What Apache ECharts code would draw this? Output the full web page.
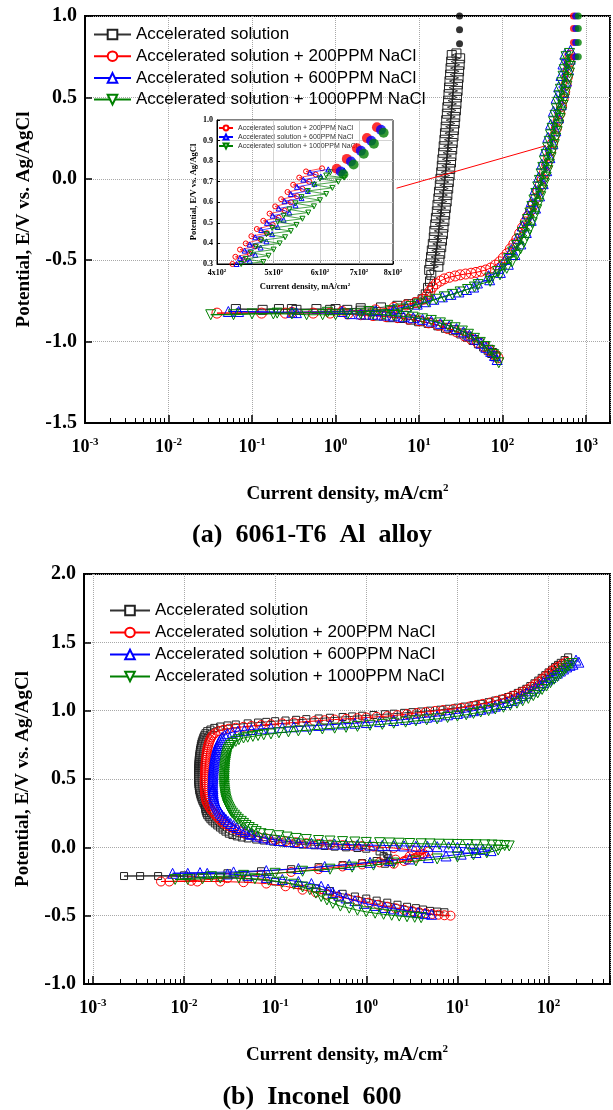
<!DOCTYPE html>
<html><head><meta charset="utf-8">
<script src="https://cdn.jsdelivr.net/npm/echarts@6/dist/echarts.min.js"></script>
<style>html,body{margin:0;padding:0;background:#fff}#c{width:613px;height:1110px}</style>
</head><body><div id="c"></div>
<script>
// ---------- names / categories ----------
const seriesNames = ['Accelerated solution','Accelerated solution + 200PPM NaCl','Accelerated solution + 600PPM NaCl','Accelerated solution + 1000PPM NaCl'];
const panelTitles = ['(a)  6061-T6  Al  alloy','(b)  Inconel  600'];
const yTitle = 'Potential, E/V vs. Ag/AgCl';
const xTitle = 'Current density, mA/cm';
const insetXTicks = [400,500,600,700,800];

// ---------- (a) 6061-T6 Al alloy : [current density, potential] ----------
const alBlack = [[82,-1.09],[75,-1.07],[68,-1.05],[60,-1.03],[52,-1.01],[45,-0.99],[38,-0.97],[32,-0.95],[26,-0.93],[21,-0.915],[17,-0.9],[13,-0.885],[10,-0.875],[8,-0.865],[6,-0.855],[4.5,-0.85],[3.2,-0.84],[2.3,-0.835],[2.0,-0.81],[1.38,-0.805],[0.86,-0.805],[0.59,-0.8],[0.34,-0.805],[0.21,-0.8],[0.134,-0.805],[0.064,-0.8],
[0.3,-0.8],[1.0,-0.8],[2.0,-0.795],[3.5,-0.79],[5.5,-0.78],[7.5,-0.77],[9.5,-0.76],[11,-0.74],[12,-0.71],[12.8,-0.67],[13.5,-0.63],[14,-0.59],
[13.2,-0.56],[17.0,-0.54],[13.6,-0.52],[17.5,-0.5],[13.9,-0.48],[17.9,-0.46],[14.2,-0.44],[18.4,-0.42],[14.6,-0.4],[18.8,-0.38],[15.0,-0.36],[19.3,-0.34],[15.2,-0.32],[19.6,-0.3],[15.6,-0.28],[20.1,-0.26],[15.9,-0.24],[20.5,-0.22],[16.3,-0.2],[20.9,-0.18],[16.6,-0.16],[21.4,-0.14],[17.0,-0.12],[21.8,-0.1],[17.3,-0.08],[22.3,-0.06],[17.7,-0.04],[22.7,-0.02],[18.0,0.0],[23.2,0.02],[18.4,0.04],[23.6,0.06],[18.7,0.08],[24.1,0.1],[19.0,0.12],[24.4,0.14],[19.4,0.16],[24.9,0.18],[19.7,0.2],[25.3,0.22],[20.1,0.24],[25.8,0.26],[20.4,0.28],[26.2,0.3],[20.8,0.32],[26.7,0.34],[21.1,0.36],[27.1,0.38],[21.5,0.4],[27.6,0.42],[21.8,0.44],[28.0,0.46],[22.2,0.48],[28.4,0.5],[22.5,0.52],[28.9,0.54],[22.8,0.56],[29.2,0.58],[23.1,0.6],[29.7,0.62],[23.5,0.64],[30.1,0.66],[23.8,0.68],[30.6,0.7],[24.2,0.72],[31.0,0.74],[24.6,0.76],[28,0.77]];
const alRed = [[88,-1.1],[80,-1.08],[70,-1.055],[60,-1.03],[50,-1.005],[42,-0.985],[35,-0.965],[28,-0.94],[22,-0.92],[17,-0.9],[13,-0.885],[10,-0.872],[7.5,-0.862],[5.5,-0.853],[4,-0.846],[2.8,-0.84],[2,-0.835],[1.4,-0.83],[0.86,-0.825],[0.54,-0.825],[0.25,-0.825],[0.13,-0.825],[0.038,-0.825],
[0.3,-0.82],[1.2,-0.815],[3,-0.805],[5,-0.79],[7,-0.775],[9,-0.76],[11,-0.74],[12.5,-0.715],[13.5,-0.69],[14.5,-0.665],[16,-0.645],[18,-0.628],[20,-0.615],[23,-0.605],[27,-0.597],[31,-0.59],[36,-0.585],[42,-0.58],[48,-0.575],[55,-0.568],[63,-0.56],[72,-0.548],[82,-0.53],[92,-0.51],[102,-0.485],[113,-0.46],[124,-0.43],[136,-0.4],[148,-0.37],[160,-0.335],[173,-0.3],[187,-0.265],[201,-0.23],[216,-0.195],[232,-0.16],[248,-0.12],[265,-0.08],[282,-0.04],[300,0.0],[318,0.04],[337,0.085],[356,0.13],[376,0.175],[397,0.22],[418,0.265],[440,0.31],[462,0.355],[485,0.4],[508,0.445],[531,0.49],[554,0.535],[576,0.58],[596,0.625],[613,0.67],[627,0.715],[640,0.76]];
const alBlue = [[86,-1.11],[80,-1.085],[72,-1.06],[63,-1.035],[55,-1.01],[47,-0.985],[40,-0.96],[34,-0.94],[28,-0.92],[23,-0.903],[18,-0.888],[14,-0.874],[11,-0.863],[8.5,-0.853],[6.5,-0.847],[5,-0.842],[3.8,-0.837],[2.8,-0.832],[2,-0.83],[1.5,-0.828],[0.34,-0.822],[0.069,-0.815],[0.052,-0.815],
[0.3,-0.82],[1.2,-0.815],[3,-0.81],[5,-0.8],[7,-0.785],[9.5,-0.77],[12,-0.755],[15,-0.74],[19,-0.725],[24,-0.71],[30,-0.695],[37,-0.68],[45,-0.665],[50,-0.64],[70,-0.62],[68,-0.595],[94,-0.575],[89,-0.55],[117,-0.525],[108,-0.495],[140,-0.465],[127,-0.435],[165,-0.4],[150,-0.365],[192,-0.33],[172,-0.29],[220,-0.255],[196,-0.215],[248,-0.18],[220,-0.14],[277,-0.105],[245,-0.065],[306,-0.03],[270,0.01],[337,0.05],[295,0.09],[368,0.13],[321,0.175],[400,0.215],[348,0.255],[433,0.295],[376,0.335],[468,0.375],[406,0.415],[504,0.455],[437,0.495],[541,0.53],[469,0.565],[580,0.6],[500,0.635],[616,0.67],[528,0.705],[645,0.735],[556,0.765],[650,0.79]];
const alGreen = [[90,-1.13],[84,-1.1],[78,-1.08],[70,-1.055],[62,-1.03],[54,-1.005],[46,-0.98],[39,-0.955],[33,-0.935],[27,-0.915],[22,-0.9],[18,-0.885],[14,-0.87],[11,-0.86],[8.5,-0.85],[6.5,-0.845],[5,-0.84],[3.8,-0.835],[2.8,-0.83],[2,-0.83],[1.4,-0.83],[1,-0.835],[0.7,-0.835],[0.45,-0.835],[0.3,-0.83],[0.18,-0.83],[0.1,-0.83],[0.06,-0.835],[0.032,-0.835],
[0.2,-0.825],[0.8,-0.82],[2.5,-0.815],[4.5,-0.81],[6,-0.8],[8,-0.785],[10,-0.77],[13,-0.755],[16,-0.74],[20,-0.725],[25,-0.71],[31,-0.695],[38,-0.68],[46,-0.665],
[51,-0.65],[71,-0.63],[70,-0.61],[93,-0.59],[87,-0.57],[112,-0.55],[103,-0.53],[130,-0.51],[118,-0.49],[147,-0.47],[132,-0.45],[164,-0.43],[147,-0.41],[180,-0.39],[160,-0.37],[195,-0.35],[173,-0.33],[211,-0.31],[186,-0.29],[226,-0.27],[199,-0.25],[241,-0.23],[212,-0.21],[256,-0.19],[224,-0.17],[271,-0.15],[237,-0.13],[286,-0.11],[250,-0.09],[301,-0.07],[263,-0.05],[316,-0.03],[276,-0.01],[332,0.01],[289,0.03],[348,0.05],[303,0.07],[363,0.09],[316,0.11],[380,0.13],[331,0.15],[397,0.17],[346,0.19],[415,0.21],[361,0.23],[432,0.25],[375,0.27],[450,0.29],[391,0.31],[469,0.33],[408,0.35],[488,0.37],[424,0.39],[508,0.41],[441,0.43],[527,0.45],[457,0.47],[548,0.49],[475,0.51],[568,0.53],[492,0.55],[589,0.57],[511,0.59],[610,0.61],[529,0.63],[631,0.65],[546,0.67],[650,0.69],[561,0.71],[667,0.73],[575,0.75],[632,0.77]];
const alBlackDots = [[30.5,1.0],[30.5,0.915],[30.5,0.83]];
const alRedDots = [[705,0.749],[705,0.837],[705,0.923],[705,1.0]];
const alBlueDots = [[750,0.749],[750,0.837],[750,0.923],[750,1.0]];
const alGreenDots = [[805,0.749],[805,0.837],[805,0.923],[805,1.0]];
const alArrow = [[5.37,-0.058],[328,0.203]];

// ---------- inset (zoom of anodic top) ----------
const insetRed = [[425,0.3],[445,0.32],[430,0.335],[455,0.35],[438,0.37],[465,0.385],[448,0.4],[475,0.42],[458,0.435],[487,0.45],[468,0.47],[498,0.49],[480,0.51],[510,0.525],[492,0.545],[522,0.56],[503,0.58],[535,0.6],[515,0.615],[548,0.63],[528,0.65],[560,0.665],[540,0.685],[575,0.7],[553,0.72],[590,0.735],[568,0.75],[605,0.765]];
const insetBlue = [[432,0.3],[455,0.315],[438,0.33],[465,0.345],[446,0.365],[475,0.38],[455,0.395],[486,0.41],[465,0.43],[497,0.445],[476,0.465],[508,0.48],[487,0.5],[520,0.515],[498,0.535],[532,0.55],[510,0.57],[545,0.585],[522,0.605],[558,0.62],[535,0.64],[572,0.655],[548,0.675],[587,0.69],[562,0.71],[602,0.725],[577,0.745],[620,0.76],[660,0.755]];
const insetGreen = [[440,0.3],[480,0.31],[448,0.325],[490,0.34],[457,0.355],[500,0.37],[466,0.385],[512,0.4],[476,0.415],[523,0.43],[486,0.445],[535,0.46],[497,0.475],[547,0.49],[508,0.505],[560,0.52],[520,0.535],[573,0.55],[532,0.565],[586,0.58],[545,0.595],[600,0.61],[558,0.625],[615,0.64],[572,0.655],[630,0.67],[586,0.685],[645,0.7],[600,0.715],[660,0.72],[615,0.73],[625,0.745]];
const insetRedDots = [[641,0.763],[667,0.811],[694,0.863],[722,0.912],[751,0.965]];
const insetBlueDots = [[651,0.75],[678,0.798],[705,0.85],[734,0.899],[763,0.952]];
const insetGreenDots = [[658,0.736],[685,0.784],[713,0.836],[742,0.885],[771,0.938]];

// ---------- (b) Inconel 600 ----------
const inBlack = [[7.2,-0.475],[6,-0.47],[5,-0.465],[4.2,-0.455],[3.5,-0.445],[2.8,-0.435],[2.2,-0.42],[1.7,-0.405],[1.3,-0.39],[1,-0.375],[0.75,-0.36],[0.55,-0.34],[0.4,-0.32],[0.28,-0.3],[0.18,-0.275],[0.1,-0.25],[0.05,-0.23],[0.025,-0.22],[0.012,-0.215],[0.0052,-0.21],[0.0033,-0.21],[0.0022,-0.21],
[0.01,-0.205],[0.03,-0.19],[0.07,-0.175],[0.15,-0.16],[0.3,-0.145],[0.55,-0.13],[0.9,-0.115],[1.3,-0.1],[1.6,-0.12],[1.8,-0.105],[1.75,-0.08],[1.55,-0.065],[1.7,-0.05],[1.4,-0.03],[1.0,-0.01],[0.8,-0.005],[0.6,0.0],[0.45,0.005],[0.35,0.01],[0.27,0.015],[0.2,0.02],[0.16,0.027],[0.12,0.035],[0.095,0.042],[0.075,0.05],[0.062,0.057],[0.05,0.065],[0.043,0.072],[0.038,0.08],[0.034,0.09],
[0.031,0.1],[0.0285,0.115],[0.0265,0.13],[0.0248,0.145],[0.0232,0.16],[0.0218,0.175],[0.0205,0.19],[0.0195,0.205],[0.0187,0.22],[0.018,0.235],[0.0176,0.25],[0.0173,0.265],[0.0171,0.28],[0.017,0.295],[0.0167,0.31],[0.0163,0.325],[0.0159,0.34],[0.0156,0.355],[0.0153,0.37],[0.0151,0.385],[0.0149,0.4],[0.0147,0.415],[0.0146,0.43],[0.0145,0.445],[0.0144,0.46],[0.0144,0.475],[0.0143,0.49],[0.0143,0.505],[0.0143,0.52],[0.0143,0.535],[0.0143,0.55],[0.0143,0.565],[0.0143,0.58],[0.0144,0.595],[0.0144,0.61],[0.0145,0.625],[0.0145,0.64],[0.0146,0.655],[0.0147,0.67],[0.0148,0.685],[0.0149,0.7],[0.015,0.715],[0.0152,0.73],[0.0153,0.745],[0.0155,0.76],[0.0157,0.775],[0.016,0.79],[0.0163,0.805],[0.0167,0.82],[0.0172,0.835],[0.018,0.85],[0.0195,0.862],[0.0215,0.874],
[0.025,0.884],[0.03,0.892],[0.037,0.899],[0.05,0.907],[0.065,0.913],[0.08,0.918],[0.1,0.923],[0.13,0.928],[0.17,0.933],[0.22,0.938],[0.3,0.943],[0.4,0.948],[0.55,0.954],[0.7,0.958],[0.9,0.963],[1.2,0.968],[1.6,0.974],[2,0.978],[2.6,0.984],[3.2,0.989],[4,0.994],[5,1.0],[6.5,1.007],[8,1.014],[10,1.022],[12,1.03],[15,1.04],[18,1.05],[22,1.062],[26,1.074],[31,1.087],[36,1.1],[41,1.115],[46,1.13],[51,1.145],[57,1.16],[63,1.18],[70,1.2],[77,1.22],[84,1.24],[92,1.26],[100,1.28],[109,1.3],[118,1.32],[127,1.335],[136,1.35],[150,1.37],[164,1.39]];
const inRed = [[8.4,-0.5],[7.2,-0.497],[6.2,-0.493],[5.3,-0.488],[4.5,-0.482],[3.8,-0.475],[3.2,-0.467],[2.6,-0.457],[2.1,-0.446],[1.7,-0.434],[1.35,-0.42],[1.05,-0.405],[0.8,-0.39],[0.62,-0.375],[0.48,-0.36],[0.37,-0.345],[0.28,-0.33],[0.2,-0.31],[0.13,-0.285],[0.08,-0.265],[0.045,-0.255],[0.025,-0.25],[0.014,-0.25],[0.0069,-0.25],[0.0056,-0.25],
[0.012,-0.245],[0.03,-0.225],[0.07,-0.2],[0.15,-0.18],[0.3,-0.16],[0.55,-0.14],[0.9,-0.125],[1.4,-0.11],[2.1,-0.09],[3.0,-0.065],[4.0,-0.045],[4.8,-0.03],[3.8,-0.06],[2.8,-0.09],[2.0,-0.12],[2.6,-0.1],[3.5,-0.075],[4.3,-0.05],[3.2,-0.02],[2.0,-0.005],[1.2,0.005],[0.9,0.009],[0.7,0.012],[0.55,0.016],[0.4,0.02],[0.3,0.025],[0.22,0.03],[0.17,0.037],[0.13,0.045],[0.1,0.055],[0.08,0.065],[0.065,0.077],[0.055,0.09],
[0.047,0.1],[0.042,0.115],[0.037,0.13],[0.033,0.145],[0.03,0.16],[0.0275,0.175],[0.0258,0.19],[0.0245,0.205],[0.0232,0.22],[0.0222,0.235],[0.0213,0.25],[0.0204,0.265],[0.0196,0.28],[0.019,0.295],[0.0184,0.31],[0.0179,0.325],[0.0176,0.34],[0.0174,0.355],[0.0172,0.37],[0.0171,0.385],[0.017,0.4],[0.017,0.415],[0.0169,0.43],[0.0169,0.445],[0.0169,0.46],[0.0169,0.475],[0.0169,0.49],[0.0169,0.505],[0.017,0.52],[0.017,0.535],[0.017,0.55],[0.0171,0.565],[0.0171,0.58],[0.0172,0.595],[0.0172,0.61],[0.0173,0.625],[0.0174,0.64],[0.0175,0.655],[0.0176,0.67],[0.0177,0.685],[0.0178,0.7],[0.018,0.715],[0.0182,0.73],[0.0184,0.745],[0.0187,0.76],[0.019,0.775],[0.0194,0.79],[0.0199,0.805],[0.0206,0.82],[0.0218,0.835],[0.024,0.85],
[0.027,0.86],[0.031,0.868],[0.037,0.875],[0.045,0.882],[0.055,0.888],[0.07,0.894],[0.09,0.9],[0.12,0.907],[0.16,0.913],[0.2,0.918],[0.27,0.924],[0.35,0.93],[0.45,0.935],[0.6,0.94],[0.8,0.945],[1,0.95],[1.3,0.955],[1.7,0.96],[2.2,0.967],[2.8,0.975],[3.6,0.983],[4.5,0.99],[5.7,0.998],[7,1.005],[9,1.012],[11,1.02],[13.5,1.03],[16,1.04],[19,1.05],[23,1.06],[27,1.072],[32,1.085],[37,1.098],[42,1.11],[47,1.125],[53,1.14],[59,1.157],[65,1.175],[71,1.192],[78,1.21],[85,1.23],[92,1.25],[100,1.27],[108,1.29],[116,1.305],[125,1.32],[140,1.34],[155,1.358]];
const inBlue = [[5.2,-0.49],[4.4,-0.485],[3.7,-0.478],[3.1,-0.47],[2.5,-0.46],[2.0,-0.45],[1.6,-0.44],[1.25,-0.425],[0.95,-0.41],[0.75,-0.39],[0.6,-0.37],[0.5,-0.35],[0.43,-0.33],[0.38,-0.305],[0.32,-0.285],[0.25,-0.265],[0.18,-0.25],[0.12,-0.235],[0.08,-0.22],[0.05,-0.205],[0.03,-0.195],[0.018,-0.19],[0.011,-0.19],[0.0075,-0.19],
[0.015,-0.185],[0.035,-0.18],[0.08,-0.17],[0.18,-0.155],[0.35,-0.14],[0.65,-0.125],[1.1,-0.11],[1.8,-0.097],[3,-0.085],[4.8,-0.075],[7.5,-0.063],[11,-0.05],[16,-0.038],[23.4,-0.024],
[19,-0.015],[16,-0.01],[13,-0.005],[10,0.0],[8,0.003],[6,0.005],[4.7,0.007],[3.5,0.008],[2.6,0.01],[2,0.012],[1.5,0.014],[1.1,0.016],[0.8,0.018],[0.6,0.02],[0.45,0.023],[0.33,0.026],[0.25,0.03],[0.18,0.035],[0.14,0.042],[0.11,0.05],[0.09,0.06],[0.075,0.07],[0.064,0.082],[0.055,0.095],
[0.053,0.1],[0.047,0.115],[0.042,0.13],[0.038,0.145],[0.035,0.16],[0.0325,0.175],[0.0305,0.19],[0.0288,0.205],[0.0275,0.22],[0.0262,0.235],[0.0252,0.25],[0.0245,0.265],[0.0238,0.28],[0.0231,0.295],[0.0225,0.31],[0.022,0.325],[0.0217,0.34],[0.0214,0.355],[0.0212,0.37],[0.021,0.385],[0.0209,0.4],[0.0208,0.415],[0.0208,0.43],[0.0207,0.445],[0.0207,0.46],[0.0207,0.475],[0.0207,0.49],[0.0208,0.505],[0.0208,0.52],[0.0209,0.535],[0.0209,0.55],[0.021,0.565],[0.0211,0.58],[0.0212,0.595],[0.0213,0.61],[0.0215,0.625],[0.0216,0.64],[0.0218,0.655],[0.022,0.67],[0.0222,0.685],[0.0224,0.7],[0.0227,0.715],[0.023,0.73],[0.0234,0.745],[0.0238,0.76],[0.0244,0.775],[0.0252,0.79],[0.0262,0.805],[0.028,0.82],[0.03,0.832],[0.034,0.842],
[0.039,0.85],[0.046,0.856],[0.055,0.862],[0.07,0.867],[0.09,0.872],[0.12,0.877],[0.16,0.882],[0.22,0.887],[0.3,0.892],[0.4,0.897],[0.55,0.903],[0.75,0.908],[1,0.913],[1.4,0.92],[2,0.928],[2.7,0.936],[3.5,0.944],[4.6,0.952],[6,0.96],[7.8,0.97],[10,0.98],[12.5,0.99],[15,1.0],[18,1.01],[22,1.02],[26,1.033],[30,1.045],[35,1.06],[40,1.075],[46,1.092],[52,1.11],[58,1.127],[65,1.145],[72,1.165],[80,1.185],[88,1.205],[97,1.225],[106,1.243],[115,1.26],[125,1.275],[135,1.29],[146,1.305],[158,1.32],[172,1.332],[185,1.34],[200,1.37],[215,1.355]];
const inGreen = [[4.0,-0.515],[3.4,-0.512],[2.8,-0.508],[2.3,-0.503],[1.9,-0.497],[1.55,-0.49],[1.25,-0.482],[1.0,-0.472],[0.8,-0.46],[0.65,-0.445],[0.52,-0.43],[0.43,-0.41],[0.37,-0.385],[0.32,-0.36],[0.28,-0.335],[0.24,-0.31],[0.2,-0.29],[0.16,-0.27],[0.12,-0.255],[0.085,-0.24],[0.06,-0.23],[0.04,-0.225],[0.025,-0.225],[0.016,-0.23],[0.011,-0.235],[0.008,-0.235],
[0.02,-0.215],[0.045,-0.205],[0.1,-0.19],[0.2,-0.175],[0.4,-0.16],[0.7,-0.145],[1.2,-0.13],[2,-0.115],[3.5,-0.1],[6,-0.085],[10,-0.07],[15,-0.055],[21,-0.04],[28,-0.02],[37,0.01],
[33,0.013],[28,0.015],[24,0.017],[20,0.018],[16,0.019],[13,0.02],[10,0.021],[8,0.022],[6.3,0.023],[5,0.025],[4,0.026],[3,0.028],[2.3,0.03],[1.8,0.032],[1.4,0.034],[1.0,0.036],[0.75,0.039],[0.55,0.042],[0.4,0.046],[0.3,0.05],[0.22,0.057],[0.17,0.065],[0.135,0.075],[0.11,0.085],[0.085,0.093],
[0.07,0.1],[0.062,0.115],[0.057,0.13],[0.052,0.145],[0.048,0.16],[0.045,0.175],[0.0425,0.19],[0.0395,0.205],[0.0375,0.22],[0.0358,0.235],[0.034,0.25],[0.0328,0.265],[0.0318,0.28],[0.031,0.295],[0.0302,0.31],[0.0297,0.325],[0.0292,0.34],[0.0288,0.355],[0.0285,0.37],[0.0283,0.385],[0.0281,0.4],[0.0279,0.415],[0.0278,0.43],[0.0277,0.445],[0.0277,0.46],[0.0276,0.475],[0.0276,0.49],[0.0276,0.505],[0.0277,0.52],[0.0277,0.535],[0.0278,0.55],[0.0279,0.565],[0.028,0.58],[0.0281,0.595],[0.0283,0.61],[0.0285,0.625],[0.0287,0.64],[0.029,0.655],[0.0293,0.67],[0.0296,0.685],[0.03,0.7],[0.0305,0.715],[0.0315,0.73],[0.0325,0.745],[0.0342,0.76],[0.037,0.775],[0.04,0.788],[0.045,0.8],
[0.05,0.806],[0.057,0.812],[0.065,0.818],[0.075,0.824],[0.09,0.83],[0.11,0.838],[0.14,0.845],[0.18,0.852],[0.24,0.858],[0.33,0.866],[0.45,0.872],[0.6,0.878],[0.8,0.885],[1.1,0.893],[1.5,0.9],[2,0.908],[2.7,0.916],[3.5,0.925],[4.6,0.932],[6,0.94],[7.8,0.95],[10,0.96],[12.5,0.97],[15,0.98],[18,0.99],[22,1.0],[26,1.012],[32,1.025],[38,1.04],[45,1.055],[52,1.072],[60,1.09],[68,1.11],[76,1.13],[85,1.155],[95,1.18],[105,1.205],[115,1.23],[125,1.25],[135,1.27],[145,1.29],[155,1.31],[167,1.328],[180,1.345]];

// ---------- styling ----------
const SERIF = '"Liberation Serif","Times New Roman",serif';
const SANS = '"Liberation Sans",Arial,sans-serif';
const SANS_NARROW = '"Liberation Sans Narrow","Liberation Sans",Arial,sans-serif';
const COLORS = ['#000000','#ff0000','#0000ff','#008000'];
const SYMBOLS = ['rect','circle','triangle','path://M0,0L10,0L5,8.66Z'];
const GRIDC = '#a8a8a8';

function expLabel(v){
  const l = Math.log10(v), e = Math.round(l);
  if (Math.abs(l - e) > 1e-6) return '';
  return '{b|10}{s|' + e + '}';
}
const expRich = {
  b:{fontFamily:SERIF,fontWeight:'bold',fontSize:18,color:'#000',lineHeight:20},
  s:{fontFamily:SERIF,fontWeight:'bold',fontSize:11,color:'#000',verticalAlign:'top',lineHeight:11}
};
const nameRich = {
  t:{fontFamily:SERIF,fontWeight:'bold',fontSize:19,color:'#000',lineHeight:22},
  s:{fontFamily:SERIF,fontWeight:'bold',fontSize:11,color:'#000',verticalAlign:'top',lineHeight:11}
};

function logX(gi,min,max){
  return {type:'log',logBase:10,gridIndex:gi,min:min,max:max,
    axisLine:{show:true,onZero:false,lineStyle:{color:'#000',width:2}},
    axisTick:{show:true,inside:true,length:8,lineStyle:{color:'#000',width:1.5}},
    minorTick:{show:true,splitNumber:9,length:5,lineStyle:{color:'#000',width:1}},
    splitLine:{show:true,lineStyle:{color:GRIDC,type:'dotted',width:1}},
    minorSplitLine:{show:false},
    axisLabel:{formatter:expLabel,margin:14,rich:expRich},
    name:'{t|'+xTitle+'}{s|2}',nameLocation:'middle',nameGap:60,nameTextStyle:{rich:nameRich}};
}
function valY(gi,min,max,step){
  return {type:'value',gridIndex:gi,min:min,max:max,interval:step,
    axisLine:{show:true,onZero:false,lineStyle:{color:'#000',width:2}},
    axisTick:{show:true,inside:true,length:7,lineStyle:{color:'#000',width:1.5}},
    splitLine:{show:true,lineStyle:{color:GRIDC,type:'dotted',width:1}},
    axisLabel:{formatter:v=>v.toFixed(1),fontFamily:SERIF,fontWeight:'bold',fontSize:20,color:'#000',margin:8},
    name:yTitle,nameLocation:'middle',nameGap:51,nameRotate:90,
    nameTextStyle:{fontFamily:SERIF,fontWeight:'bold',fontSize:19,color:'#000'}};
}
function lineS(prefix,i,data,ax,size,lw,z){
  return {type:'line',name:prefix+'|'+seriesNames[i],data:data,xAxisIndex:ax,yAxisIndex:ax,
    symbol:SYMBOLS[i],symbolSize:size,showSymbol:true,animation:false,z:z,clip:true,
    lineStyle:{color:i===0?'#333':COLORS[i],width:lw},
    itemStyle:{color:'rgba(255,255,255,0)',borderColor:i===0?'#222':COLORS[i],borderWidth:1},
    emphasis:{disabled:true}};
}
function dotS(i,data,ax,size){
  return {type:'scatter',data:data,xAxisIndex:ax,yAxisIndex:ax,symbol:'circle',symbolSize:size,
    itemStyle:{color:COLORS[i]},animation:false,z:10,clip:false,emphasis:{disabled:true}};
}

const series = [
  lineS('a',0,alBlack,0,9,1,2),
  lineS('a',1,alRed,0,10,1,3),
  lineS('a',2,alBlue,0,10,1,4),
  Object.assign(lineS('a',3,alGreen,0,10,1,5),{
    markLine:{silent:true,animation:false,symbol:['none','arrow'],symbolSize:[0,13],
      label:{show:false},lineStyle:{color:'#ff0000',width:1,type:'solid'},
      data:[[{coord:alArrow[0]},{coord:alArrow[1]}]]}}),
  dotS(0,alBlackDots,0,7), dotS(1,alRedDots,0,7), dotS(2,alBlueDots,0,7), dotS(3,alGreenDots,0,7),
  lineS('b',0,inBlack,1,7,1,2),
  lineS('b',1,inRed,1,9,1,3),
  lineS('b',2,inBlue,1,10,1,4),
  lineS('b',3,inGreen,1,10,1,5),
  lineS('i',1,insetRed,2,5,0.7,6),
  lineS('i',2,insetBlue,2,5,0.7,7),
  Object.assign(lineS('i',3,insetGreen,2,5,0.7,8),{
    markLine:{silent:true,animation:false,symbol:'none',label:{show:false},
      lineStyle:{color:'#c8c8c8',width:0.8,type:'solid'},
      data:insetXTicks.slice(1,-1).map(v=>({xAxis:v}))}}),
  dotS(1,insetRedDots,2,10), dotS(2,insetBlueDots,2,10), dotS(3,insetGreenDots,2,10)
];

const insetX = {type:'log',logBase:10,gridIndex:2,min:insetXTicks[0],max:insetXTicks[insetXTicks.length-1],
  axisLine:{show:true,onZero:false,lineStyle:{color:'#000',width:1}},
  axisTick:{show:true,inside:true,length:3,customValues:insetXTicks,lineStyle:{color:'#000',width:1}},
  splitLine:{show:false},
  axisLabel:{customValues:insetXTicks,margin:4,formatter:v=>'{b|'+Math.round(v/100)+'x10}{s|2}',
    rich:{b:{fontFamily:SERIF,fontWeight:'bold',fontSize:8,color:'#000',lineHeight:9},
          s:{fontFamily:SERIF,fontWeight:'bold',fontSize:5,color:'#000',verticalAlign:'top',lineHeight:5}}},
  name:'{t|'+xTitle+'}{s|2}',nameLocation:'middle',nameGap:18,
  nameTextStyle:{rich:{t:{fontFamily:SERIF,fontWeight:'bold',fontSize:8.5,color:'#000',lineHeight:10},
                       s:{fontFamily:SERIF,fontWeight:'bold',fontSize:5,color:'#000',verticalAlign:'top',lineHeight:5}}}};
const insetY = {type:'value',gridIndex:2,min:0.3,max:1.0,interval:0.1,
  axisLine:{show:true,onZero:false,lineStyle:{color:'#000',width:1}},
  axisTick:{show:true,inside:true,length:3,lineStyle:{color:'#000',width:1}},
  splitLine:{show:true,lineStyle:{color:'#c8c8c8',width:0.8}},
  axisLabel:{formatter:v=>v.toFixed(1),fontFamily:SERIF,fontWeight:'bold',fontSize:8,color:'#000',margin:4},
  name:yTitle,nameLocation:'middle',nameGap:19,nameRotate:90,
  nameTextStyle:{fontFamily:SERIF,fontWeight:'bold',fontSize:8.5,color:'#000'}};

const legendBase = {orient:'vertical',selectedMode:false,formatter:n=>n.slice(2),itemStyle:{color:'#fff'}};
const option = {
  backgroundColor:'#fff',
  animation:false,
  grid:[
    {left:85,top:16,width:528,height:407,show:true,borderColor:'#000',borderWidth:2,containLabel:false},
    {left:84,top:574,width:529,height:410,show:true,borderColor:'#000',borderWidth:2,containLabel:false},
    {left:217,top:120,width:176,height:144,show:true,borderColor:'#000',borderWidth:1,containLabel:false}
  ],
  xAxis:[logX(0,0.001,1930),logX(1,0.0008,472),insetX],
  yAxis:[valY(0,-1.5,1.0,0.5),valY(1,-1.0,2.0,0.5),insetY],
  legend:[
    Object.assign({},legendBase,{data:seriesNames.map(n=>'a|'+n),left:88,top:21,itemWidth:37,itemHeight:12,itemGap:4.7,
      textStyle:{fontFamily:SANS,fontSize:17,color:'#000',lineHeight:17}}),
    Object.assign({},legendBase,{data:seriesNames.map(n=>'b|'+n),left:104,top:597,itemWidth:40,itemHeight:12,itemGap:5,
      textStyle:{fontFamily:SANS,fontSize:17,color:'#000',lineHeight:17}}),
    Object.assign({},legendBase,{data:seriesNames.slice(1).map(n=>'i|'+n),left:213,top:119,itemWidth:14,itemHeight:6,itemGap:1,
      textStyle:{fontFamily:SANS_NARROW,fontSize:7,color:'#333',lineHeight:8}})
  ],
  graphic:[
    {type:'text',x:312,y:535,style:{text:panelTitles[0],font:'bold 26px "Liberation Serif"',fill:'#000',align:'center',verticalAlign:'middle',textAlign:'center',textVerticalAlign:'middle'}},
    {type:'text',x:312,y:1097,style:{text:panelTitles[1],font:'bold 26px "Liberation Serif"',fill:'#000',align:'center',verticalAlign:'middle',textAlign:'center',textVerticalAlign:'middle'}}
  ],
  series:series
};
const chart = echarts.init(document.getElementById('c'),null,{renderer:'canvas'});
chart.setOption(option);
</script></body></html>
